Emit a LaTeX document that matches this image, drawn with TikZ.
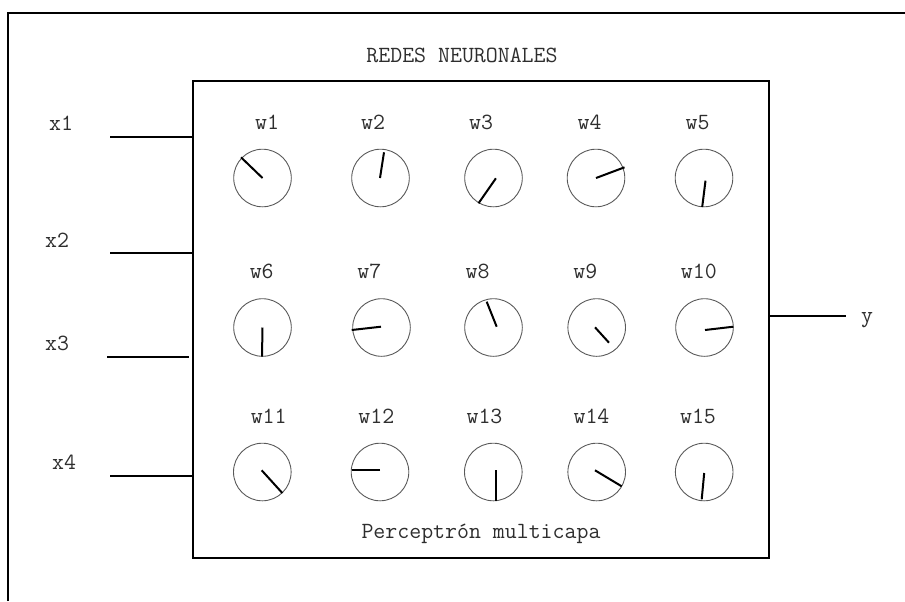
\documentclass[tikz,border=0pt]{standalone}
\usepackage{fontspec}
\usetikzlibrary{calc}
\definecolor{ink}{HTML}{2E2E2E}
\tikzset{
  lbl/.style={font=\ttfamily\fontsize{11.6}{13}\selectfont, text=ink, anchor=base, inner sep=0pt},
  frame/.style={line width=1pt, black},
  wire/.style={line width=0.85pt, black},
  dial/.style={circle, draw=black!65, line width=0.45pt, minimum size=28.8pt, inner sep=0pt},
  hand/.style={line width=1pt, black, line cap=butt}
}
\begin{document}
\begin{tikzpicture}[x=0.5pt, y=-0.5pt]
\useasboundingbox (0,0) rectangle (905,601);

% outer frame (open on the right and bottom)
\draw[frame] (8,601) -- (8,13) -- (905,13);

% title
\node[lbl] (title) at (462,62.5) {REDES NEURONALES};

% network box
\node[draw, line width=1pt, minimum width=288pt, minimum height=238.5pt, inner sep=0pt] (net) at (481,319.5) {};
\node[lbl] (caption) at (481,538) {Perceptrón multicapa};

% inputs
\node[lbl] (x1) at (61,130.5) {x1};
\node[lbl] (x2) at (57,247) {x2};
\node[lbl] (x3) at (57,350.5) {x3};
\node[lbl] (x4) at (64,469) {x4};
\coordinate (i1) at (110,137);
\coordinate (i2) at (110,253.3);
\coordinate (i3) at (107,357.3);
\coordinate (i4) at (110,475.7);
\draw[wire] (i1) -- (i1 -| net.west);
\draw[wire] (i2) -- (i2 -| net.west);
\draw[wire] (i3) -- ([xshift=-1.5pt]i3 -| net.west);
\draw[wire] (i4) -- (i4 -| net.west);

% output
\node[lbl] (y) at (867,322) {y};
\coordinate (o1) at (846,316);
\draw[wire] (o1 -| net.east) -- (o1);

% dials: name / centre / label position / hand start offset / hand end offset
\foreach \n/\cx/\cy/\lx/\ly/\sx/\sy/\ex/\ey in {
  1/262.5/178/267/129/0/0/-21.5/-20.7,
  2/380.5/178/373/129/-0.5/0/3.5/-25.7,
  3/493.5/178/481/129/2.4/0.3/-15/25.3,
  4/596/178/589.5/129/0/0/28.5/-10.7,
  5/704/178/697.5/129/1.5/2.7/-1.8/29,
  6/262.5/327.5/261.7/278.3/0/0/-0.5/29.2,
  7/381.5/327.5/369.3/278.3/-0.5/-0.8/-29.8/2.5,
  8/493.5/327.5/477.5/278.3/3.2/-0.8/-6.8/-25.8,
  9/596.7/327.5/585.3/278.3/-1.7/-0.2/12.3/15.2,
  10/704.5/327.5/698.8/278.3/0.5/2.5/28.8/-0.8,
  11/262.3/472/268.7/423.3/-0.6/-1.7/20/21,
  12/380/472/376.3/423.3/0/-1.7/-28.3/-1.7,
  13/493.3/472/484.5/423.3/2.7/-1.7/2.7/29,
  14/596.7/472/591.5/423.3/-1.7/-1.7/25/14.3,
  15/704.2/472/698/423.3/0/1/-2.5/27.3}
{
  \node[dial] (d\n) at (\cx,\cy) {};
  \node[lbl] (w\n) at (\lx,\ly) {w\n};
  \draw[hand] ($(d\n.center)+(\sx,\sy)$) -- ($(d\n.center)+(\ex,\ey)$);
}
\end{tikzpicture}
\end{document}
